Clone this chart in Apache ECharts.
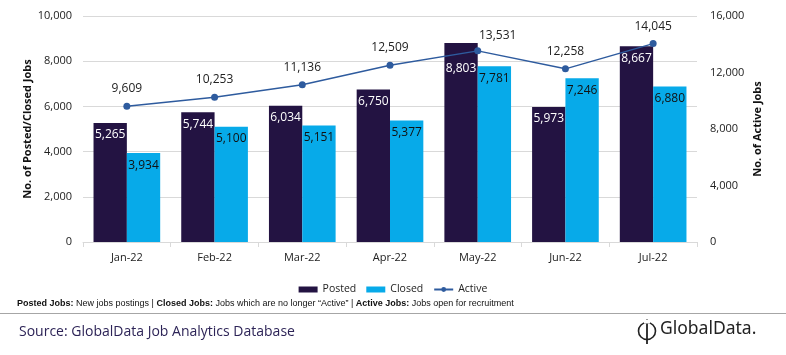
<!DOCTYPE html>
<html><head><meta charset="utf-8">
<script src="https://cdn.jsdelivr.net/npm/echarts@6/dist/echarts.min.js"></script>
<style>html,body{margin:0;padding:0;background:#fff}#c{width:786px;height:355px}</style>
</head><body><div id="c"></div>
<script>
const categories = ['Jan-22','Feb-22','Mar-22','Apr-22','May-22','Jun-22','Jul-22'];
const posted = [5265,5744,6034,6750,8803,5973,8667];
const closed = [3934,5100,5151,5377,7781,7246,6880];
const active = [9609,10253,11136,12509,13531,12258,14045];
const leftTicks = {min:0,max:10000,interval:2000};
const rightTicks = {min:0,max:16000,interval:4000};

const F = '"Open Sans","Liberation Sans",sans-serif';
const fmt = v => v.toLocaleString('en-US');
// manual label nudges (as in the original, where labels were moved to avoid overlap)
const postedData = posted.map((v,i)=> i===4 ? {value:v,label:{offset:[0,14]}} : v);
const activeData = active.map((v,i)=> i===4 ? {value:v,label:{offset:[20,2]}} : v);

const chart = echarts.init(document.getElementById('c'));
chart.setOption({
  animation:false,
  textStyle:{fontFamily:F},
  grid:{left:83,right:89,top:16,bottom:113,containLabel:false},
  legend:{
    top:279,left:'center',itemGap:10,itemWidth:19,itemHeight:6,
    textStyle:{fontSize:10.5,color:'#222',fontFamily:F},
    data:[{name:'Posted',icon:'rect'},{name:'Closed',icon:'rect'},{name:'Active'}]
  },
  xAxis:{type:'category',data:categories,
    axisLine:{lineStyle:{color:'#d9d9d9'}},axisTick:{show:true,lineStyle:{color:'#d9d9d9'}},
    axisLabel:{color:'#222',fontSize:11,margin:10}},
  yAxis:[
    {type:'value',min:leftTicks.min,max:leftTicks.max,interval:leftTicks.interval,
     name:'No. of Posted/Closed Jobs',nameLocation:'middle',nameGap:50,nameRotate:90,nameMoveOverlap:false,
     nameTextStyle:{fontWeight:'bold',fontSize:11,color:'#111'},
     axisLabel:{formatter:fmt,color:'#222',fontSize:11,margin:11},
     splitLine:{lineStyle:{color:'#d9d9d9'}},axisLine:{show:false},axisTick:{show:false}},
    {type:'value',min:rightTicks.min,max:rightTicks.max,interval:rightTicks.interval,
     name:'No. of Active Jobs',nameLocation:'middle',nameGap:55,nameRotate:90,nameMoveOverlap:false,
     nameTextStyle:{fontWeight:'bold',fontSize:11,color:'#111'},
     axisLabel:{formatter:fmt,color:'#222',fontSize:11,margin:13},
     splitLine:{show:false},axisLine:{show:false},axisTick:{show:false}}
  ],
  series:[
    {name:'Posted',type:'bar',data:postedData,barGap:'0%',barCategoryGap:'24%',
     itemStyle:{color:'#231342'},
     label:{show:true,position:'insideTop',color:'#fff',fontSize:12,formatter:p=>fmt(p.value),distance:6}},
    {name:'Closed',type:'bar',data:closed,
     itemStyle:{color:'#07aae9'},
     label:{show:true,position:'insideTop',color:'#111',fontSize:12,formatter:p=>fmt(p.value),distance:6}},
    {name:'Active',type:'line',yAxisIndex:1,data:activeData,symbol:'circle',symbolSize:7,
     lineStyle:{color:'#2e5b9e',width:1.5},itemStyle:{color:'#2e5b9e'},
     label:{show:true,position:'top',color:'#222',fontSize:12,formatter:p=>fmt(p.value),distance:8}}
  ],
  graphic:[
    {type:'text',left:17,top:299,style:{
      text:'{b|Posted Jobs:} New jobs postings | {b|Closed Jobs:} Jobs which are no longer \u201cActive\u201d | {b|Active Jobs:} Jobs open for recruitment',
      font:'9px "Liberation Sans Narrow","Liberation Sans",sans-serif',fill:'#111',
      rich:{b:{fontWeight:'bold',fontSize:9,fontFamily:'"Liberation Sans Narrow","Liberation Sans",sans-serif'}}}},
    {type:'line',shape:{x1:0,y1:313.5,x2:786,y2:313.5},style:{stroke:'#a6a6a6',lineWidth:1}},
    {type:'text',left:19,top:325,style:{text:'Source: GlobalData Job Analytics Database',
      font:'14px "Open Sans",sans-serif',fill:'#2d2457'}},
    {type:'circle',shape:{cx:647,cy:331,r:8.5},style:{fill:'none',stroke:'#222',lineWidth:1.6}},
    {type:'line',shape:{x1:647,y1:319,x2:647,y2:344},style:{stroke:'#222',lineWidth:1.8}},
    {type:'rect',shape:{x:644,y:319.5,width:6,height:4},style:{fill:'#fff'}},
    {type:'text',left:660,top:320,style:{text:'GlobalData.',font:'17.5px "Noto Sans",sans-serif',fill:'#222'}}
  ]
});
</script></body></html>
